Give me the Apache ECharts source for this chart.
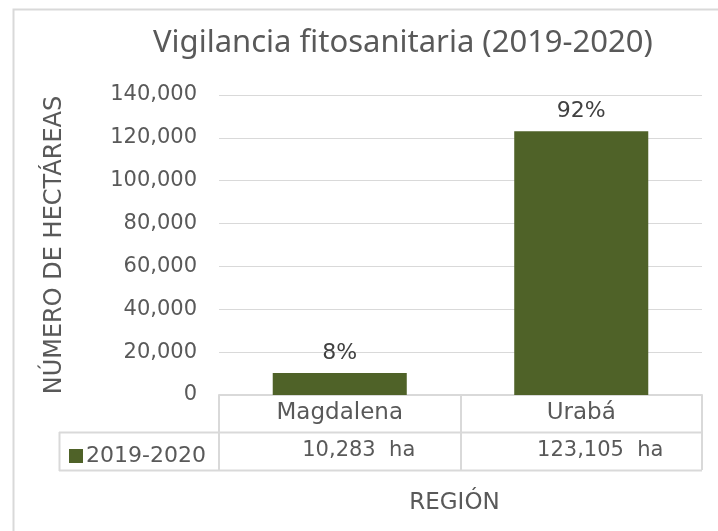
<!DOCTYPE html>
<html>
<head>
<meta charset="utf-8">
<script src="https://cdn.jsdelivr.net/npm/echarts@6/dist/echarts.min.js"></script>
<style>
  html, body { margin: 0; padding: 0; background: #fff; }
  #chart-container { width: 718px; height: 531px; }
</style>
</head>
<body>
<div id="chart-container"></div>
<script>
var regions = ['Magdalena', 'Urabá'];
var hectares = [10283, 123105];
var shares = ['8%', '92%'];
var seriesName = '2019-2020';

var dom = document.getElementById('chart-container');
var myChart = echarts.init(dom, null, { renderer: 'canvas' });

var textColor = '#595959';
var lineColor = '#d9d9d9';
var font = 'DejaVu Sans';

function fmt(n) {
  return n.toString().replace(/\B(?=(\d{3})+(?!\d))/g, ',');
}

var option = {
  animation: false,
  title: {
    text: 'Vigilancia fitosanitaria (2019-2020)',
    left: 148,
    top: 23,
    textStyle: { fontFamily: 'Noto Sans', fontSize: 31, fontWeight: 'normal', color: textColor }
  },
  legend: {
    data: [seriesName],
    left: 64,
    top: 440,
    icon: 'rect',
    itemWidth: 14,
    itemHeight: 14,
    itemGap: 4,
    textStyle: { fontFamily: font, fontSize: 22, color: textColor, padding: [0, 0, 0, -2] }
  },
  grid: { left: 219, right: 16, top: 95, bottom: 136 },
  xAxis: [
    {
      type: 'category',
      data: regions,
      axisLine: { show: true, lineStyle: { color: lineColor, width: 2 } },
      axisTick: { show: true, length: 75, lineStyle: { color: lineColor, width: 2 } },
      axisLabel: { fontFamily: font, fontSize: 23, color: textColor, margin: 7 },
      name: 'REGIÓN',
      nameLocation: 'middle',
      nameGap: 97,
      nameTextStyle: { fontFamily: font, fontSize: 23, color: textColor, padding: [0, 12, 0, 0] }
    },
    {
      type: 'category',
      data: regions,
      position: 'bottom',
      offset: 37,
      axisLine: { show: false },
      axisTick: { show: false },
      axisLabel: {
        fontFamily: font, fontSize: 21, color: textColor, margin: 8,
        padding: [0, 0, 0, 38],
        formatter: function (v, i) { return fmt(hectares[i]) + '  ha'; }
      }
    }
  ],
  yAxis: {
    type: 'value',
    min: 0,
    max: 140000,
    interval: 20000,
    axisLine: { show: false },
    axisTick: { show: false },
    splitLine: { lineStyle: { color: lineColor } },
    axisLabel: {
      fontFamily: font, fontSize: 21, color: textColor, margin: 22,
      formatter: function (v) { return fmt(v); }
    },
    name: 'NÚMERO DE HECTÁREAS',
    nameLocation: 'middle',
    nameGap: 152,
    nameTextStyle: { fontFamily: font, fontSize: 24, color: textColor }
  },
  series: [{
    name: seriesName,
    type: 'bar',
    data: hectares,
    barWidth: '55.5%',
    itemStyle: { color: '#4f6228' },
    label: {
      show: true,
      position: 'top',
      distance: 9,
      fontFamily: font,
      fontSize: 22,
      color: '#404040',
      formatter: function (p) { return shares[p.dataIndex]; }
    }
  }],
  graphic: [
    { type: 'rect', shape: { x: 13.5, y: 9.5, width: 720, height: 540 }, style: { fill: null, stroke: lineColor, lineWidth: 2 }, silent: true },
    { type: 'line', shape: { x1: 59, y1: 432.5, x2: 702, y2: 432.5 }, style: { stroke: lineColor, lineWidth: 2 } },
    { type: 'line', shape: { x1: 59, y1: 470.5, x2: 702, y2: 470.5 }, style: { stroke: lineColor, lineWidth: 2 } },
    { type: 'line', shape: { x1: 59.5, y1: 432, x2: 59.5, y2: 471 }, style: { stroke: lineColor, lineWidth: 2 } }
  ]
};

myChart.setOption(option);
window.addEventListener('resize', myChart.resize);
</script>
</body>
</html>
